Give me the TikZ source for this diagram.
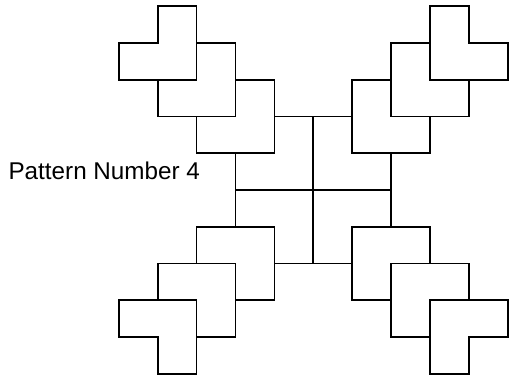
\documentclass[tikz,border=0pt]{standalone}
\usepackage{fontspec}
\setmainfont{Liberation Sans}
\usetikzlibrary{positioning}
\definecolor{tileline}{RGB}{0,0,0}
\tikzset{
  tile/.style={draw=tileline, line width=1.4pt, line join=miter},
  caption/.style={font=\fontsize{20.7}{24}\selectfont, anchor=base west, inner sep=0pt}
}
\begin{document}
\begin{tikzpicture}[x=1.167cm, y=1.1025cm]
  \useasboundingbox (-8.054,-5.061) rectangle (5.057,5.170);
  % four arms of L-shaped tiles, mirrored out of the centre
  \foreach \sx/\sy in {1/1,-1/1,1/-1,-1/-1}{
    \begin{scope}[xscale=\sx, yscale=\sy]
      \foreach \k in {0,...,3}{
        \draw[tile] (-1-\k,\k+2) -- (-\k,\k+2) -- (-\k,\k) -- (-2-\k,\k)
          -- (-2-\k,\k+1) -- (-1-\k,\k+1) -- cycle;
      }
    \end{scope}
  }
  % label
  \node[caption] (title) at (-7.84,0.272) {Pattern Number 4};
\end{tikzpicture}
\end{document}
